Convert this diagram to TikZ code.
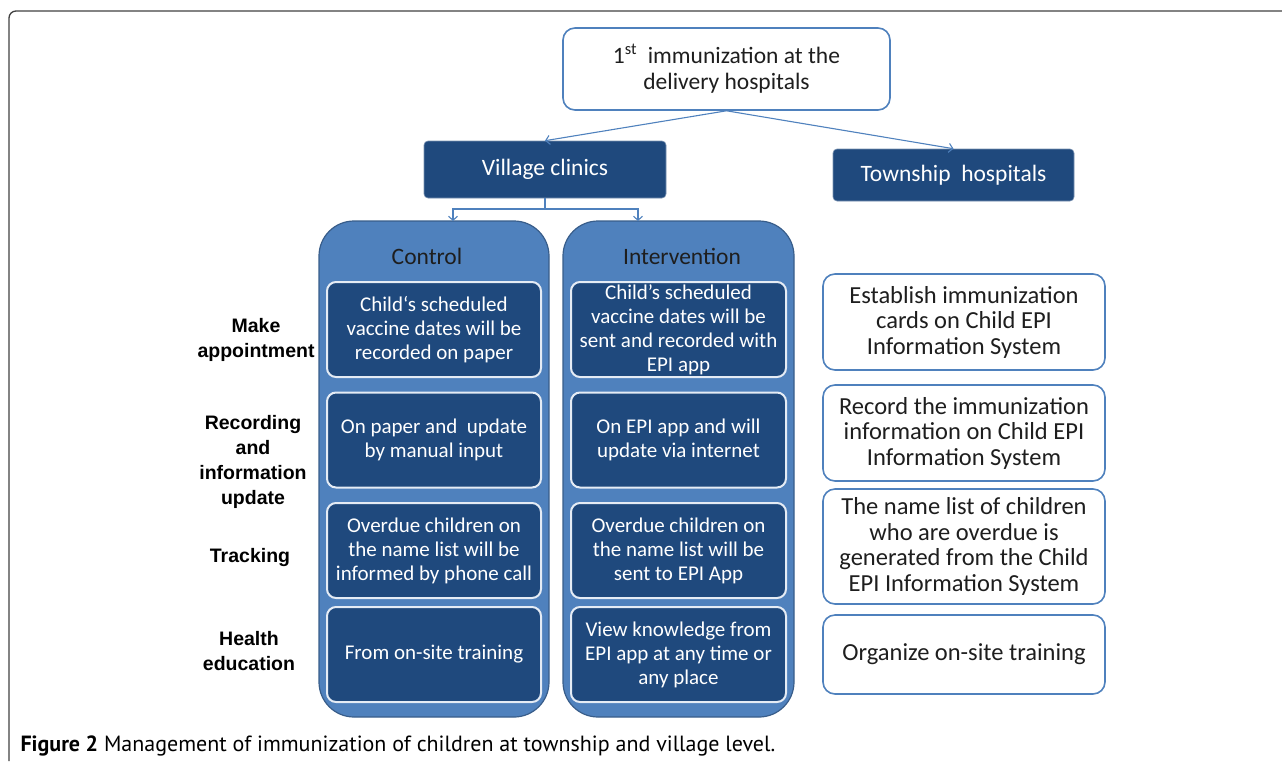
\documentclass[tikz,border=0pt]{standalone}
\usepackage{xcolor}
\usepackage{fontspec}
\setmainfont{Carlito}
\newfontfamily\labelfont{Liberation Sans}
\newfontfamily\capfont{PT Sans}
\usetikzlibrary{arrows.meta}

\definecolor{darkblue}{RGB}{31,73,125}
\definecolor{midblue}{RGB}{79,129,189}
\definecolor{edgeblue}{RGB}{56,93,138}
\definecolor{textgray}{RGB}{30,30,30}

\begin{document}
\begin{tikzpicture}[x=1pt,y=-1pt]
			\tikzstyle{start} = [draw=midblue, line width=1.6pt, fill=white, rounded corners=12pt, align=center, text=textgray, font=\fontsize{23.5}{26}\selectfont, inner sep=0pt]
			\tikzstyle{site} = [fill=darkblue, draw=darkblue!60, line width=0.6pt, rounded corners=4pt, text=white, font=\fontsize{23.5}{26}\selectfont, inner sep=0pt]
			\tikzstyle{column} = [fill=midblue, draw=edgeblue, line width=1.2pt, rounded corners=35pt, minimum width=230pt, minimum height=496pt, inner sep=0pt]
			\tikzstyle{head} = [text=textgray, font=\fontsize{23.5}{26}\selectfont]
			\tikzstyle{task} = [fill=darkblue, draw=white!85!midblue, line width=2pt, rounded corners=9pt, minimum width=214pt, minimum height=95pt, align=center, text=white, font=\fontsize{21}{24}\selectfont, inner sep=0pt]
			\tikzstyle{township} = [fill=white, draw=midblue, line width=1.6pt, rounded corners=12pt, minimum width=282pt, align=center, text=textgray, font=\fontsize{24.5}{25.5}\selectfont, inner sep=0pt]
			\tikzstyle{stage} = [align=center, text=black, font=\labelfont\bfseries\fontsize{19.5}{25}\selectfont]
			\tikzset{edge/.style = {draw=midblue, line width=1.1pt, -{Straight Barb[length=4pt,width=9pt]}}}
			
			\useasboundingbox (0,0) rectangle (1282,761);
			\draw[line width=1.3pt, black!75, rounded corners=7pt] (9,761) -- (9,11) -- (1282,11);
			
			% top of the tree
			\node[start, minimum width=327pt, minimum height=82pt](first) at (726.5,69) {1\textsuperscript{st}\ \ immunization at the\\delivery hospitals};
			\node[site, minimum width=242pt, minimum height=57pt](village) at (545,169.5) {Village clinics};
			\node[site, minimum width=241pt, minimum height=52pt](township) at (953.5,175) {Township\ \ hospitals};
			\draw[edge](first.south) to (village.north);
			\draw[edge](first.south) to (township.north);
			
			% the two arms
			\node[column](control) at (434,469) {};
			\node[column, minimum width=231pt](interv) at (678.5,469) {};
			\node[head](controlhead) at (427,256) {Control};
			\node[head](intervhead) at (682,256) {Intervention};
			
			\coordinate (fork) at (545,209);
			\coordinate (controltop) at (453,221);
			\coordinate (intervtop) at (638,221);
			\draw[draw=midblue, line width=1.1pt](village.south) -- (fork);
			\draw[edge](fork) -| (controltop);
			\draw[edge](fork) -| (intervtop);
			
			% control
			\node[task](c1) at (434,329.5) {Child\textquoteleft s scheduled\\vaccine dates will be\\recorded on paper};
			\node[task](c2) at (434,440) {On paper and\ \ update\\by manual input};
			\node[task](c3) at (434,550.5) {Overdue children on\\the name list will be\\informed by phone call};
			\node[task](c4) at (434,654.5) {From on-site training};
			
			% intervention
			\node[task, minimum width=215pt](i1) at (678.5,329.5) {Child's scheduled\\vaccine dates will be\\sent and recorded with\\EPI app};
			\node[task, minimum width=215pt](i2) at (678.5,440) {On EPI app and will\\update via internet};
			\node[task, minimum width=215pt](i3) at (678.5,550.5) {Overdue children on\\the name list will be\\sent to EPI App};
			\node[task, minimum width=215pt](i4) at (678.5,654.5) {View knowledge from\\EPI app at any time or\\any place};
			
			% township side
			\node[township, minimum height=96pt](t1) at (964,322) {Establish immunization\\cards on Child EPI\\Information System};
			\node[township, minimum height=96pt](t2) at (964,433) {Record the immunization\\information on Child EPI\\Information System};
			\node[township, minimum height=115pt](t3) at (964,546.5) {The name list of children\\who are overdue is\\generated from the Child\\EPI Information System};
			\node[township, minimum height=79pt](t4) at (964,654.5) {Organize on-site training};
			
			% row labels
			\node[stage](make) at (256,340) {Make\\appointment};
			\node[stage](record) at (253,462) {Recording\\and\\information\\update};
			\node[stage](track) at (250,557) {Tracking};
			\node[stage](health) at (249,651) {Health\\education};
			
			\node[anchor=base west, font=\capfont\fontsize{22}{24}\selectfont](caption) at (17,751) {\textbf{Figure 2} Management of immunization of children at township and village level.};
			
			\end{tikzpicture}
\end{document}
